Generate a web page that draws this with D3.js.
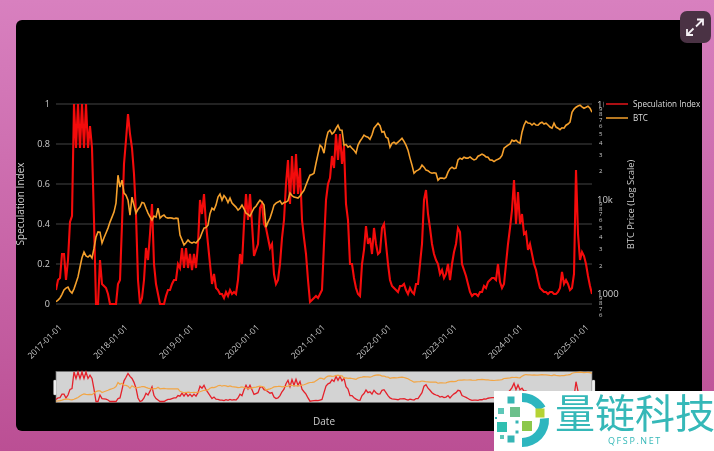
<!DOCTYPE html>
<html>
<head>
<meta charset="utf-8">
<script src="https://cdn.jsdelivr.net/npm/d3@7"></script>
<style>
  html, body { margin: 0; padding: 0; background: #c965a8; overflow: hidden; }
  svg { display: block; filter: blur(0.35px); }
  text { font-family: "Open Sans", sans-serif; }
</style>
</head>
<body>
<svg id="chart" width="714" height="451"></svg>
<script>
const firstDay = "2017-01-01";
const lastDay = "2025-02-22";
const yearTicks = ["2017-01-01", "2018-01-01", "2019-01-01", "2020-01-01", "2021-01-01",
    "2022-01-01", "2023-01-01", "2024-01-01", "2025-01-01"];
const indexTicks = [0, 0.2, 0.4, 0.6, 0.8, 1];
const indexTickLabels = ["0", "0.2", "0.4", "0.6", "0.8", "1"];
const priceTicks = [600, 700, 800, 900, 1000, 2000, 3000, 4000, 5000, 6000, 7000, 8000, 9000, 10000,
    20000, 30000, 40000, 50000, 60000, 70000, 80000, 90000, 100000];
const priceTickLabels = ["6", "7", "8", "9", "1000", "2", "3", "4", "5", "6", "7", "8", "9", "10k",
    "2", "3", "4", "5", "6", "7", "8", "9", "100k"];
const seriesNames = ["Speculation Index", "BTC"];

// evenly spaced between firstDay and lastDay
const specValues = [
    .07, .12, .13, .25, .25, .12, .22, .41, .44, 1,
    .78, 1, .78, 1, .78, 1, .78, .89, .78, .42,
    0, 0, .22, .1, .09, .08, .05, 0, 0, 0,
    0, .1, .12, .4, .7, .82, .95, .85, .78, .65,
    .45, .12, 0, .03, .12, .28, .22, .35, .5, .2,
    .1, .05, 0, 0, 0, .04, .07, .07, .1, .12,
    .12, .2, .18, .28, .18, .28, .18, .25, .17, .25,
    .18, .3, .52, .45, .55, .4, .3, .2, .1, .15,
    .08, .07, .05, .05, .03, .06, .04, .07, .05, .06,
    .05, .12, .25, .2, .4, .55, .42, .55, .4, .24,
    .27, .3, .48, .5, .4, .38, .33, .28, .3, .15,
    .1, .12, .2, .33, .42, .6, .72, .5, .74, .55,
    .75, .55, .68, .42, .33, .25, .12, .01, .02, .03,
    .04, .03, .05, .07, .3, .52, .6, .63, .74, .68,
    .85, .72, .85, .7, .79, .5, .42, .2, .2, .13,
    .08, .05, .04, .2, .27, .39, .3, .33, .25, .38,
    .3, .25, .26, .38, .4, .3, .2, .12, .09, .08,
    .07, .06, .09, .09, .1, .07, .05, .08, .06, .05,
    .1, .1, .2, .3, .52, .57, .45, .38, .3, .25,
    .22, .2, .15, .17, .13, .15, .2, .12, .2, .26,
    .3, .38, .36, .2, .17, .14, .1, .06, .04, .05,
    .05, .04, .06, .06, .09, .08, .11, .12, .13, .13,
    .12, .2, .11, .08, .1, .2, .3, .38, .47, .62,
    .4, .56, .4, .45, .35, .36, .27, .3, .25, .2,
    .17, .12, .08, .07, .06, .06, .05, .06, .06, .05,
    .05, .06, .08, .16, .1, .12, .1, .07, .08, .15,
    .67, .35, .22, .26, .24, .2, .14, .09, .05
];
const btcValues = [
    819, 850, 897, 980, 1090, 1140, 1170, 1060, 1010, 1120,
    1290, 1500, 1910, 2400, 2750, 2500, 2430, 2550, 2380, 3000,
    3960, 4500, 4470, 3420, 3900, 4370, 4930, 5710, 6440, 7280,
    9080, 17900, 13400, 15900, 11600, 11000, 9750, 6770, 10500, 8640,
    7110, 7800, 8230, 9200, 9080, 8000, 7110, 6500, 5990, 6600,
    6440, 8030, 6290, 6600, 6770, 6400, 6290, 6350, 6290, 6200,
    6290, 6250, 4160, 3700, 3260, 3450, 3680, 3500, 3420, 3500,
    3420, 3650, 3860, 4400, 4930, 5000, 5300, 7000, 8030, 7700,
    8640, 10500, 11300, 9750, 10900, 10250, 9200, 10250, 9080, 8640,
    8230, 7650, 8000, 8640, 7900, 7110, 6900, 6610, 7300, 8030,
    8400, 9100, 9750, 9300, 8640, 5050, 5710, 6290, 7280, 8640,
    9080, 9300, 9600, 8850, 9200, 9300, 9600, 11600, 10900, 10500,
    10400, 10250, 10800, 11600, 12400, 14100, 16000, 17900, 18200, 18800,
    24000, 30000, 37300, 35500, 30700, 42100, 51200, 53700, 49000, 51200,
    56000, 60700, 54000, 53700, 37300, 38000, 35500, 36500, 34600, 33000,
    30700, 37300, 41000, 44000, 47600, 46000, 45300, 43000, 48000, 56400,
    60000, 63700, 60000, 51200, 52000, 45300, 44000, 35500, 39000, 40100,
    38500, 40100, 42100, 44200, 41000, 37300, 33000, 27200, 22900, 18800,
    19800, 20300, 21000, 22900, 21800, 20300, 20000, 19200, 18800, 19000,
    18800, 15900, 16700, 16700, 16500, 17000, 19300, 21000, 21800, 21000,
    21300, 26000, 27200, 26500, 27800, 27200, 27200, 28000, 26800, 26000,
    26500, 28500, 29200, 30000, 29200, 28000, 27800, 26000, 25900, 25000,
    25900, 26500, 27200, 29000, 34600, 36000, 37300, 38500, 42100, 41000,
    42100, 40100, 39100, 51200, 60700, 66900, 64000, 63700, 61000, 63700,
    61000, 60700, 63700, 65300, 62500, 63700, 61000, 58000, 56400, 63700,
    58000, 56400, 54500, 57000, 56400, 60700, 62500, 65300, 83300, 90000,
    94100, 97000, 98800, 95000, 91800, 94000, 96400, 92000, 83300
];

const parseDay = d3.utcParse("%Y-%m-%d");
const startDate = parseDay(firstDay);
const endDate = parseDay(lastDay);
const dateAt = d3.scaleLinear().domain([0, specValues.length - 1]).range([startDate.getTime(), endDate.getTime()]);
const dates = specValues.map((v, i) => new Date(dateAt(i)));

const svg = d3.select("#chart");

// page background and card
const defs = svg.append("defs");
const grad = defs.append("linearGradient").attr("id", "pink").attr("x1", 0).attr("y1", 0).attr("x2", 0).attr("y2", 1);
grad.append("stop").attr("offset", "0%").attr("stop-color", "#d880bf");
grad.append("stop").attr("offset", "100%").attr("stop-color", "#bb4f94");
svg.append("rect").attr("width", 714).attr("height", 451).attr("fill", "url(#pink)");
svg.append("rect").attr("x", 16).attr("y", 20).attr("width", 686).attr("height", 411).attr("rx", 6).attr("fill", "#000");

const x = d3.scaleUtc().domain([startDate, endDate]).range([56, 592]);
const ySpec = d3.scaleLinear().domain([0, 1]).range([304, 104]);
const yBtc = d3.scaleLog().domain([774, 101800]).range([304, 104]);

defs.append("clipPath").attr("id", "plotClip").append("rect")
    .attr("x", 56).attr("y", 103).attr("width", 536).attr("height", 202);

// grid lines
svg.append("g")
    .selectAll("line")
    .data(indexTicks)
    .enter().append("line")
    .attr("x1", 56)
    .attr("x2", 592)
    .attr("y1", d => ySpec(d))
    .attr("y2", d => ySpec(d))
    .style("stroke", "#444")
    .style("stroke-width", 1);

// main lines
const specLine = d3.line().x((d, i) => x(dates[i])).y(d => ySpec(d));
const btcLine = d3.line().x((d, i) => x(dates[i])).y(d => yBtc(d));
const plot = svg.append("g").attr("clip-path", "url(#plotClip)");
plot.append("path").attr("d", specLine(specValues))
    .style("fill", "none").style("stroke", "#f40b0b").style("stroke-width", 2.1);
plot.append("path").attr("d", btcLine(btcValues))
    .style("fill", "none").style("stroke", "#f5a02c").style("stroke-width", 1.6);

// left axis
const leftAxis = svg.append("g").attr("transform", "translate(56,0)")
    .call(d3.axisLeft(ySpec).tickValues(indexTicks).tickSize(0).tickPadding(6)
        .tickFormat((d, i) => indexTickLabels[i]));
leftAxis.select(".domain").remove();
leftAxis.selectAll("text").style("fill", "#ccc").style("font-size", "9px");

// right log axis
const rightAxis = svg.append("g").attr("transform", "translate(596,0)")
    .call(d3.axisRight(yBtc).tickValues(priceTicks).tickSize(0).tickPadding(1)
        .tickFormat((d, i) => priceTickLabels[i]));
rightAxis.select(".domain").remove();
rightAxis.selectAll("text")
    .style("fill", "#ccc")
    .style("font-size", (d, i) => priceTickLabels[i].length > 1 ? "9.5px" : "6px")
    .attr("x", (d, i) => priceTickLabels[i].length > 1 ? 1 : 3);

// bottom axis
const bottomAxis = svg.append("g").attr("transform", "translate(0,304)")
    .call(d3.axisBottom(x).tickValues(yearTicks.map(parseDay)).tickSize(0)
        .tickFormat(d3.utcFormat("%Y-%m-%d")));
bottomAxis.select(".domain").remove();
bottomAxis.selectAll("text")
    .style("fill", "#ccc")
    .style("font-size", "8.5px")
    .style("text-anchor", "end")
    .attr("x", 6)
    .attr("y", 24)
    .attr("dy", 0)
    .attr("transform", "rotate(-45,6,24)");

// axis titles
svg.append("text").attr("transform", "translate(24,204) rotate(-90)")
    .attr("text-anchor", "middle").style("fill", "#ccc").style("font-size", "10px").text("Speculation Index");
svg.append("text").attr("transform", "translate(633.5,204.5) rotate(-90)")
    .attr("text-anchor", "middle").style("fill", "#ccc").style("font-size", "9.4px").text("BTC Price (Log Scale)");
svg.append("text").attr("x", 324).attr("y", 425)
    .attr("text-anchor", "middle").style("fill", "#ccc").style("font-size", "10px").text("Date");

// legend sits on top of the axis labels
svg.append("rect").attr("x", 603.5).attr("y", 98).attr("width", 96).attr("height", 28).attr("fill", "#000");
const legend = svg.append("g")
    .selectAll("g")
    .data(seriesNames)
    .enter().append("g")
    .attr("transform", (d, i) => "translate(606," + (104 + i * 14) + ")");
legend.append("line").attr("x1", 0).attr("x2", 22)
    .style("stroke", (d, i) => i === 0 ? "#e5141a" : "#f5a02c").style("stroke-width", 1.5);
legend.append("text").attr("x", 27).attr("y", 3).style("fill", "#ddd").style("font-size", "8.1px").text(d => d);

// range slider
const ySpecMini = d3.scaleLinear().domain(ySpec.domain()).range([401.5, 372]);
const yBtcMini = d3.scaleLog().domain(yBtc.domain()).range([401.5, 372]);
svg.append("rect").attr("x", 56).attr("y", 371.5).attr("width", 536).attr("height", 31)
    .style("fill", "#d3d3d3").style("stroke", "#777").style("stroke-width", 0.7);
svg.append("path").attr("d", d3.line().x((d, i) => x(dates[i])).y(d => ySpecMini(d))(specValues))
    .style("fill", "none").style("stroke", "#e5202a").style("stroke-width", 1.3);
svg.append("path").attr("d", d3.line().x((d, i) => x(dates[i])).y(d => yBtcMini(d))(btcValues))
    .style("fill", "none").style("stroke", "#f2a544").style("stroke-width", 1.2);
svg.append("g").selectAll("rect")
    .data([x.range()[0] - 2.5, x.range()[1]])
    .enter().append("rect")
    .attr("x", d => d).attr("y", 380).attr("width", 3).attr("height", 15).attr("rx", 1)
    .style("fill", "#eee").style("stroke", "#999").style("stroke-width", 0.3);

// expand button, top right corner
svg.append("rect").attr("x", 680).attr("y", 11).attr("width", 31).attr("height", 32).attr("rx", 7).attr("fill", "#4a3244");
svg.append("path")
    .attr("d", "M703 19.5L696 26.5M697 19.5H703V25.5M687 35L693.5 28.5M687 29V35H693")
    .style("fill", "none").style("stroke", "#f4f0f4").style("stroke-width", 1.8);

// watermark over the corner
const mark = svg.append("g");
mark.append("rect").attr("x", 494).attr("y", 391).attr("width", 220).attr("height", 60).attr("fill", "#fff");
const ring = d3.arc().innerRadius(18).outerRadius(27);
mark.selectAll("path.ring")
    .data([[0, 1.05], [1.5, Math.PI]])
    .enter().append("path")
    .attr("class", "ring")
    .attr("transform", "translate(522,420)")
    .attr("d", d => ring({ startAngle: d[0], endAngle: d[1] }))
    .attr("fill", "#2db6bf");
const logoSquares = [
    [511, 400, 7, "#35b5b5"], [501, 411, 6, "#5cc7b8"], [515, 412, 10, "#6cc08b"],
    [502, 427, 10, "#2fbfb0"], [527, 426, 10, "#8cc84b"], [540, 413, 9, "#b5d334"],
    [511, 439, 7, "#35b5b5"], [502, 437, 4, "#5cc7b8"], [517, 422, 3, "#35b5b5"],
    [517, 432, 3, "#35b5b5"], [496, 418, 2, "#35b5b5"]
];
mark.selectAll("rect.sq")
    .data(logoSquares)
    .enter().append("rect")
    .attr("class", "sq")
    .attr("x", d => d[0] - d[2] / 2)
    .attr("y", d => d[1] - d[2] / 2)
    .attr("width", d => d[2])
    .attr("height", d => d[2])
    .attr("fill", d => d[3]);
mark.append("text").attr("x", 555).attr("y", 428)
    .style("font-family", '"Noto Sans CJK SC"').style("font-size", "40px").style("fill", "#35b8b8").text("量链科技");
mark.append("text").attr("x", 608).attr("y", 444)
    .style("font-size", "9px").style("letter-spacing", "1.6px").style("fill", "#35b8b8").text("QFSP.NET");
</script>
</body>
</html>
